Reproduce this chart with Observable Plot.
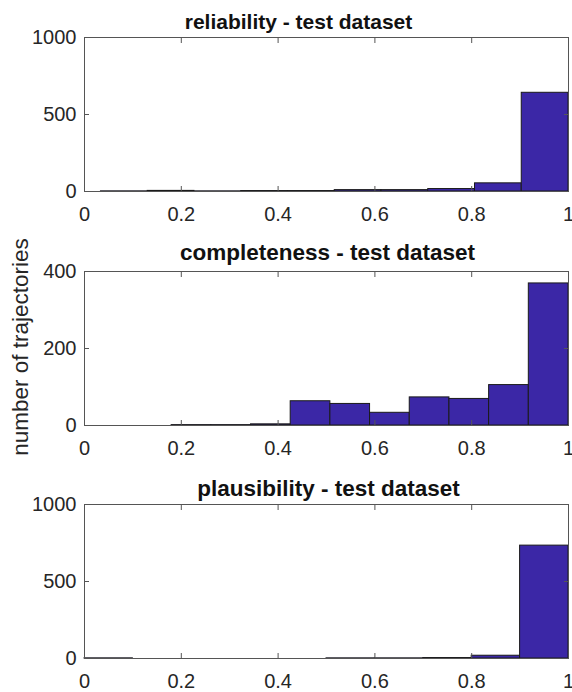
<!DOCTYPE html>
<html>
<head>
<meta charset="utf-8">
<script src="https://cdn.jsdelivr.net/npm/d3@7"></script>
<script src="https://cdn.jsdelivr.net/npm/@observablehq/plot@0.6"></script>
<style>
  html, body { margin: 0; padding: 0; background: #fff; }
  #wrap { position: relative; width: 572px; height: 692px; font-family: "Liberation Sans", Arial, sans-serif; overflow: hidden; }
  .panel { position: absolute; left: 0; }
  #ylabel { position: absolute; left: 21px; top: 347px; transform: translate(-50%, -50%) rotate(-90deg); white-space: nowrap; font-size: 22.5px; color: #262626; line-height: 1; }
</style>
</head>
<body>
<div id="wrap">
  <div id="p0" class="panel" style="top:1px"></div>
  <div id="p1" class="panel" style="top:235px"></div>
  <div id="p2" class="panel" style="top:468px"></div>
  <div id="ylabel"></div>
</div>
<script>
const titles = ["reliability - test dataset", "completeness - test dataset", "plausibility - test dataset"];
const yAxisLabel = "number of trajectories";
const xTicks = [0, 0.2, 0.4, 0.6, 0.8, 1];

const reliabilityEdges = [0.034, 0.1306, 0.2272, 0.3238, 0.4204, 0.517, 0.6136, 0.7102, 0.8068, 0.9034, 1.0];
const reliabilityCounts = [1, 4, 1, 3, 3, 9, 9, 16, 53, 641];
const reliabilityYTicks = [0, 500, 1000];

const completenessEdges = [0.18, 0.262, 0.344, 0.426, 0.508, 0.59, 0.672, 0.754, 0.836, 0.918, 1.0];
const completenessCounts = [1, 1, 3, 63, 56, 33, 73, 69, 105, 369];
const completenessYTicks = [0, 200, 400];

const plausibilityEdges = [0, 0.1, 0.2, 0.3, 0.4, 0.5, 0.6, 0.7, 0.8, 0.9, 1.0];
const plausibilityCounts = [1, 0, 0, 0, 0, 1, 1, 3, 18, 733];
const plausibilityYTicks = [0, 500, 1000];

document.getElementById("ylabel").textContent = yAxisLabel;

const panels = [
  {title: titles[0], edges: reliabilityEdges, counts: reliabilityCounts, yTicks: reliabilityYTicks, titleDx: -28, titleDy: -15, titleSize: 21},
  {title: titles[1], edges: completenessEdges, counts: completenessCounts, yTicks: completenessYTicks, titleDx: 1, titleDy: -19, titleSize: 22.5},
  {title: titles[2], edges: plausibilityEdges, counts: plausibilityCounts, yTicks: plausibilityYTicks, titleDx: 2, titleDy: -16, titleSize: 22.5}
];

const ink = "#262626";
panels.forEach((p, k) => {
  const bins = p.counts.map((c, i) => ({x1: p.edges[i], x2: p.edges[i + 1], y: c}));
  const yMax = p.yTicks[p.yTicks.length - 1];
  const chart = Plot.plot({
    width: 572, height: 230,
    marginLeft: 84, marginRight: 4, marginTop: 36, marginBottom: 40,
    x: {domain: [0, 1]},
    y: {domain: [0, yMax]},
    style: {fontFamily: "'Liberation Sans', Arial, sans-serif", fontSize: "20px", color: ink, background: "white", overflow: "visible"},
    marks: [
      Plot.rectY(bins, {x1: "x1", x2: "x2", y: "y", fill: "#3b27a6", stroke: "#1a1a1a", strokeWidth: 1}),
      Plot.frame({stroke: "#555"}),
      Plot.axisX({ticks: xTicks, tickSize: -5, tickPadding: 20, tickFormat: d => String(d), label: null, stroke: "#555", fill: ink}),
      Plot.axisX({anchor: "top", ticks: xTicks, tickSize: -5, tickFormat: () => "", label: null, stroke: "#555"}),
      Plot.axisY({ticks: p.yTicks, tickSize: -5, tickPadding: 13, tickFormat: d => String(d), label: null, stroke: "#555", fill: ink}),
      Plot.axisY({anchor: "right", ticks: p.yTicks, tickSize: -5, tickFormat: () => "", label: null, stroke: "#555"}),
      Plot.text([p.title], {frameAnchor: "top", lineAnchor: "middle", dx: p.titleDx, dy: p.titleDy, text: d => d, fontWeight: "bold", fontSize: p.titleSize, fill: "#111"})
    ]
  });
  document.getElementById("p" + k).appendChild(chart);
});
</script>
</body>
</html>
